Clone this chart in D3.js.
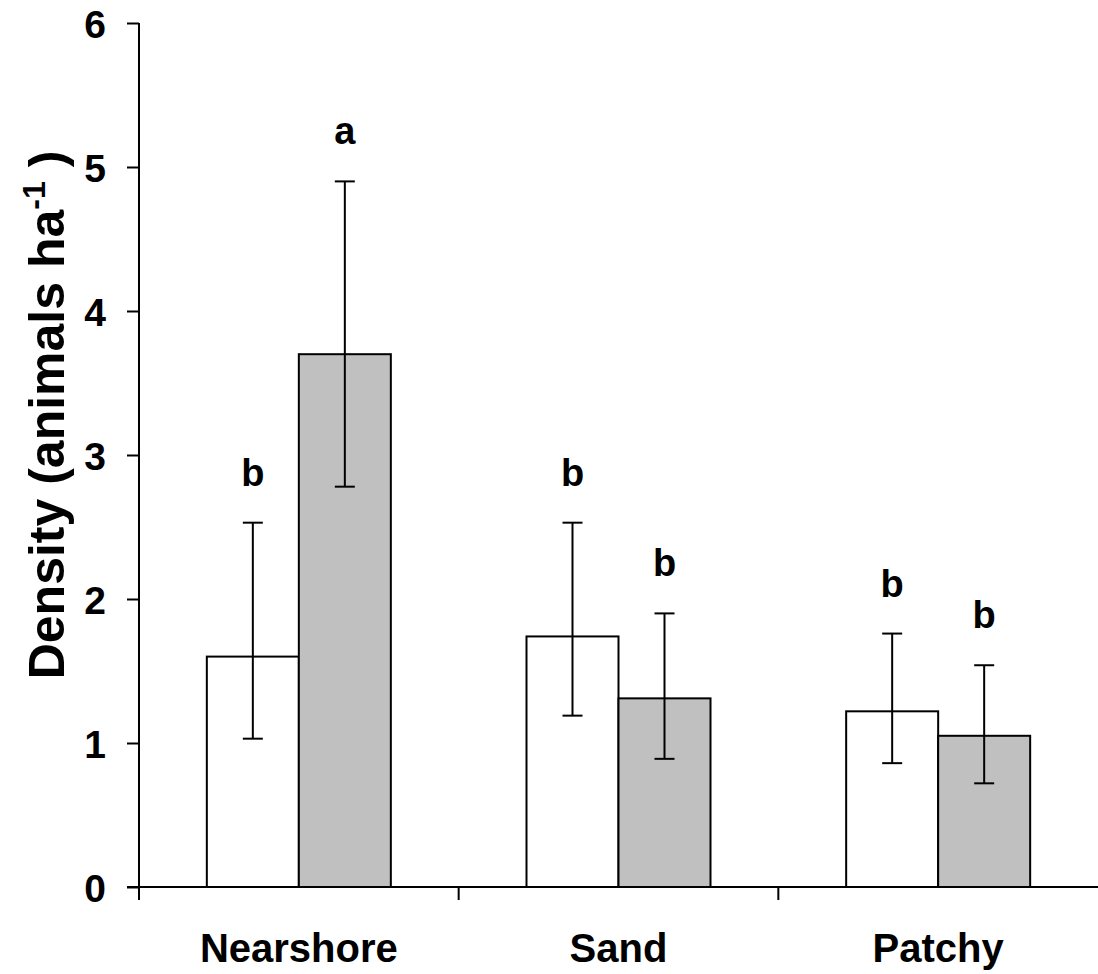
<!DOCTYPE html>
<html>
<head>
<meta charset="utf-8">
<script src="https://cdn.jsdelivr.net/npm/d3@7"></script>
<style>
  body { margin: 0; background: #fff; }
  svg text { font-family: "Liberation Sans", Arial, sans-serif; font-weight: bold; fill: #000; }
</style>
</head>
<body>
<svg width="1098" height="974"></svg>
<script>
// habitat categories and the two groups per habitat
var categories = ["Nearshore", "Sand", "Patchy"];
var groups = ["white", "grey"];

// mean density, lower and upper error, significance letter
var means = [[1.60, 3.70], [1.74, 1.31], [1.22, 1.05]];
var lows  = [[1.03, 2.78], [1.19, 0.89], [0.86, 0.72]];
var highs = [[2.53, 4.90], [2.53, 1.90], [1.76, 1.54]];
var letters = [["b", "a"], ["b", "b"], ["b", "b"]];

var yTicks = [0, 1, 2, 3, 4, 5, 6];
var fills = ["#ffffff", "#c0c0c0"];

var svg = d3.select("svg");

// plot area
var plotLeft = 139, plotRight = 1098, plotTop = 23, plotBottom = 887;
var barW = 92;

var x = d3.scaleBand().domain(categories).range([plotLeft, plotRight]);
var y = d3.scaleLinear().domain([0, 6]).range([plotBottom, plotTop]);

// flatten to one record per bar
var rows = [];
categories.forEach(function(c, i) {
  groups.forEach(function(g, j) {
    rows.push({cat: c, j: j, mean: means[i][j], lo: lows[i][j], hi: highs[i][j], letter: letters[i][j]});
  });
});

function barX(d) {
  return x(d.cat) + x.bandwidth() / 2 + (d.j - 1) * barW;
}

// bars
svg.selectAll("rect.bar")
  .data(rows)
  .enter()
  .append("rect")
  .attr("class", "bar")
  .attr("x", barX)
  .attr("y", function(d) { return y(d.mean); })
  .attr("width", barW)
  .attr("height", function(d) { return y(0) - y(d.mean); })
  .attr("fill", function(d) { return fills[d.j]; })
  .attr("stroke", "#000")
  .attr("stroke-width", 2);

// error bars
var err = svg.selectAll("g.err")
  .data(rows)
  .enter()
  .append("g")
  .attr("stroke", "#000")
  .attr("stroke-width", 2);

err.append("line")
  .attr("x1", function(d) { return barX(d) + barW / 2; })
  .attr("x2", function(d) { return barX(d) + barW / 2; })
  .attr("y1", function(d) { return y(d.lo); })
  .attr("y2", function(d) { return y(d.hi); });

err.each(function(d) {
  var cx = barX(d) + barW / 2;
  [d.lo, d.hi].forEach(function(v) {
    d3.select(this).append("line")
      .attr("x1", cx - 10).attr("x2", cx + 10)
      .attr("y1", y(v)).attr("y2", y(v));
  }, this);
});

// significance letters
svg.selectAll("text.letter")
  .data(rows)
  .enter()
  .append("text")
  .attr("x", function(d) { return barX(d) + barW / 2; })
  .attr("y", function(d) { return y(d.hi) - 37; })
  .attr("text-anchor", "middle")
  .attr("font-size", 38)
  .text(function(d) { return d.letter; });

// y axis
var yAxis = d3.axisLeft(y).tickValues(yTicks).tickFormat(d3.format("d")).tickSize(12).tickPadding(21);
var gy = svg.append("g")
  .attr("transform", "translate(" + plotLeft + ",0)")
  .call(yAxis);
gy.select(".domain").attr("stroke-width", 2).attr("d", "M0," + plotBottom + "V" + plotTop);
gy.selectAll(".tick line").attr("stroke-width", 2);
gy.selectAll(".tick text").attr("font-size", 39).attr("font-family", null).attr("dy", "0.36em");

// x axis: ticks at band edges, labels centred under each band
var gx = svg.append("g").attr("transform", "translate(0," + plotBottom + ")");
gx.append("line")
  .attr("x1", plotLeft - 12).attr("x2", plotRight)
  .attr("stroke", "#000").attr("stroke-width", 2);
var edges = categories.map(function(c) { return x(c); });
gx.selectAll("line.edge")
  .data(edges)
  .enter()
  .append("line")
  .attr("x1", function(d) { return d; })
  .attr("x2", function(d) { return d; })
  .attr("y1", 0).attr("y2", 13)
  .attr("stroke", "#000").attr("stroke-width", 2);
gx.selectAll("text.cat")
  .data(categories)
  .enter()
  .append("text")
  .attr("x", function(d) { return x(d) + x.bandwidth() / 2; })
  .attr("y", 75)
  .attr("text-anchor", "middle")
  .attr("font-size", 40)
  .text(function(d) { return d; });

// y title
var title = svg.append("text")
  .attr("transform", "translate(64,415) rotate(-90)")
  .attr("text-anchor", "middle")
  .attr("font-size", 50);
title.append("tspan").text("Density (animals ha");
title.append("tspan").attr("font-size", 32).attr("dy", -19).text("-1");
title.append("tspan").attr("dy", 19).text(" )");
</script>
</body>
</html>
